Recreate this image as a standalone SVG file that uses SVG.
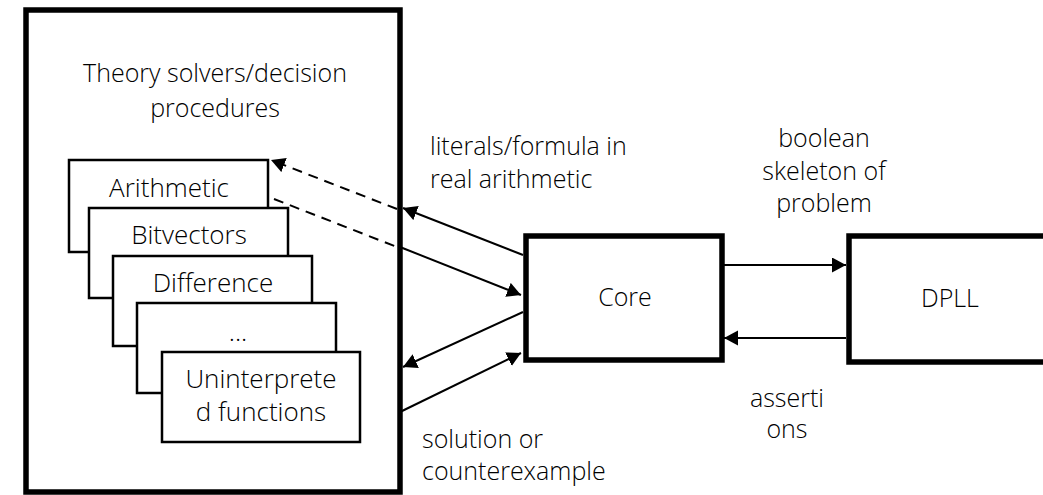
<svg xmlns="http://www.w3.org/2000/svg" width="1043" height="495" viewBox="0 0 1043 495">
<style>
text{font-family:"Open Sans","Noto Sans","Liberation Sans",sans-serif;font-weight:300;fill:#000;font-size:25px}
.c{text-anchor:middle}
.s{font-size:26px}
.big{fill:#fff;stroke:#000;stroke-width:5.5}
.sub{fill:#fff;stroke:#000;stroke-width:2.5}
.ln{stroke:#000;stroke-width:2;fill:none}
.dash{stroke-dasharray:10,7}
</style>
<defs>
<marker id="ah" markerUnits="userSpaceOnUse" markerWidth="16" markerHeight="16" refX="14" refY="7.5" orient="auto">
<path d="M0,0 L14,7.5 L0,15 z" fill="#000"/>
</marker>
</defs>
<g id="connectors">
<line class="ln" x1="523" y1="255" x2="403" y2="208" marker-end="url(#ah)"/>
<line class="ln" x1="400" y1="247" x2="521" y2="295" marker-end="url(#ah)"/>
<line class="ln" x1="523" y1="312" x2="403" y2="367" marker-end="url(#ah)"/>
<line class="ln" x1="400" y1="412" x2="521" y2="353" marker-end="url(#ah)"/>
<line class="ln" x1="724" y1="265" x2="846" y2="265" marker-end="url(#ah)"/>
<line class="ln" x1="846" y1="338" x2="724" y2="338" marker-end="url(#ah)"/>
</g>
<g id="theory">
<rect class="big" x="26" y="10" width="374" height="482"/>
<text class="c" x="215" y="82">Theory solvers/decision</text>
<text class="c" x="215" y="117">procedures</text>
</g>
<g id="arithmetic"><rect class="sub" x="69" y="160" width="199" height="92"/><text class="c s" x="169" y="197">Arithmetic</text></g>
<g id="bitvectors"><rect class="sub" x="89" y="208" width="199" height="90"/><text class="c s" x="189" y="244">Bitvectors</text></g>
<g id="difference"><rect class="sub" x="113" y="256" width="199" height="90"/><text class="c s" x="213" y="292">Difference</text></g>
<g id="ellipsis"><rect class="sub" x="137" y="303" width="199" height="90"/><text class="c s" x="238" y="341">...</text></g>
<g id="uninterpreted"><rect class="sub" x="162" y="352" width="198" height="90"/><text class="c s" x="261" y="388">Uninterprete</text><text class="c s" x="261" y="421">d functions</text></g>
<g id="dashed-connectors">
<line class="ln dash" x1="397" y1="209" x2="271" y2="160" marker-end="url(#ah)"/>
<line class="ln dash" x1="274" y1="199" x2="397" y2="247"/>
</g>
<g id="core"><rect class="big" x="526" y="236" width="196" height="124"/><text class="c" x="625" y="306">Core</text></g>
<g id="dpll"><rect class="big" x="849" y="236" width="200" height="126"/><text class="c" x="950" y="307">DPLL</text></g>
<g id="labels">
<text x="430" y="155">literals/formula in</text>
<text x="430" y="188">real arithmetic</text>
<text x="422" y="448">solution or</text>
<text x="422" y="480">counterexample</text>
<text class="c" x="824" y="147">boolean</text>
<text class="c" x="824" y="180">skeleton of</text>
<text class="c" x="824" y="212">problem</text>
<text class="c" x="787" y="407">asserti</text>
<text class="c" x="787" y="438">ons</text>
</g>
</svg>
